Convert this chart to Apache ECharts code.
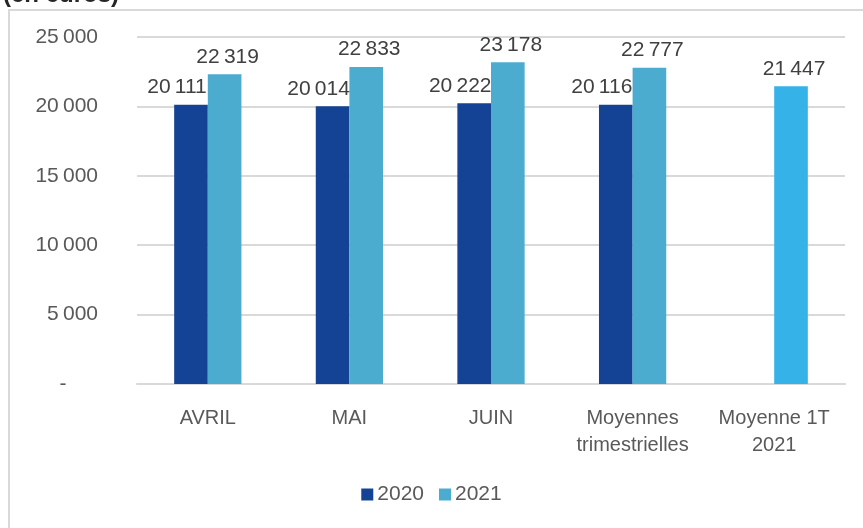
<!DOCTYPE html>
<html>
<head>
<meta charset="utf-8">
<script src="https://cdn.jsdelivr.net/npm/echarts@6/dist/echarts.min.js"></script>
<style>
  html, body { margin: 0; padding: 0; background: #fff; }
  #wrap { position: relative; width: 863px; height: 528px; overflow: hidden; }
  #chart { width: 863px; height: 528px; }
  /* cadre gris du graphique */
  .frame { position: absolute; left: 8px; top: 9px; width: 900px; height: 600px;
           border-left: 2px solid #d9d9d9; border-top: 2px solid #d9d9d9; pointer-events: none; }
</style>
</head>
<body>
<div id="wrap">
  <div id="chart"></div>
  <div class="frame"></div>
</div>
<script>
  // données
  const categories = ['AVRIL', 'MAI', 'JUIN', 'Moyennes\ntrimestrielles', 'Moyenne 1T\n2021']
  const values2020 = [20111, 20014, 20222, 20116, null]
  const values2021 = [22319, 22833, 23178, 22777, 21447]
  const seriesNames = ['2020', '2021']

  const FONT = "'Liberation Sans', sans-serif"
  const textGrey = '#595959'

  // format "20 111"
  function fmt(v) {
    if (v === 0) return '-\u2003\u2002'
    return String(v).replace(/\B(?=(\d{3})+(?!\d))/g, '\u2009')
  }

  const chartInstance = echarts.init(document.getElementById('chart'))
  const option = {
    animation: false,
    title: {
      text: '(en euros)',
      left: -2,
      top: -22,
      textStyle: { fontFamily: FONT, fontSize: 24, fontWeight: 'bold', color: '#262626' }
    },
    grid: { left: 137, right: 18, top: 37, bottom: 144 },
    legend: {
      data: seriesNames,
      bottom: 18,
      left: 'center',
      itemWidth: 12,
      itemHeight: 12,
      itemGap: 15,
      icon: 'rect',
      textStyle: { fontFamily: FONT, fontSize: 21, color: textGrey, padding: [0, 0, 0, -1] }
    },
    xAxis: {
      type: 'category',
      data: categories,
      axisTick: { show: false },
      axisLine: { lineStyle: { color: '#d9d9d9', width: 2 } },
      axisLabel: {
        interval: 0,
        margin: 21,
        lineHeight: 27,
        fontFamily: FONT,
        fontSize: 20,
        color: textGrey
      }
    },
    yAxis: {
      type: 'value',
      min: 0,
      max: 25000,
      interval: 5000,
      axisLine: { show: false },
      axisTick: { show: false },
      splitLine: { lineStyle: { color: '#d9d9d9', width: 2 } },
      axisLabel: {
        margin: 39,
        fontFamily: FONT,
        fontSize: 21,
        color: textGrey,
        formatter: fmt
      }
    },
    series: [
      {
        name: '2020',
        type: 'bar',
        data: values2020,
        barGap: 0,
        barCategoryGap: '52.5%',
        itemStyle: { color: '#144395' },
        label: {
          show: true,
          position: 'top',
          distance: 7,
          offset: [-14, 0],
          fontFamily: FONT,
          fontSize: 21,
          color: '#404040',
          formatter: p => fmt(p.value)
        }
      },
      {
        name: '2021',
        type: 'bar',
        data: values2021.map((v, i) => i === 4 ? { value: v, itemStyle: { color: '#35b3e9' } } : v),
        itemStyle: { color: '#4bacd0' },
        label: {
          show: true,
          position: 'top',
          distance: 7,
          offset: [3, 0],
          fontFamily: FONT,
          fontSize: 21,
          color: '#404040',
          formatter: p => fmt(p.value)
        }
      }
    ]
  }
  chartInstance.setOption(option)
</script>
</body>
</html>
